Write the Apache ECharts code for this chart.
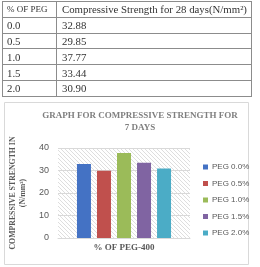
<!DOCTYPE html>
<html>
<head>
<meta charset="utf-8">
<script src="https://cdn.jsdelivr.net/npm/echarts@6/dist/echarts.min.js"></script>
<style>
  html, body { margin: 0; padding: 0; background: #fff; }
  #chart { position: absolute; left: 0; top: 0; width: 260px; height: 267px; }
  #tab {
    position: absolute; left: 2px; top: 1px; width: 250px;
    border-collapse: collapse; font-family: "Liberation Serif", serif;
    font-size: 10.8px; color: #333;
  }
  #tab td { border: 1px solid #8c8c8c; height: 14.8px; padding: 0 0 0 5px; line-height: 14px; white-space: nowrap; }
  #tab td.c1 { width: 49px; padding-left: 4px; }
  #tab td.h1 { font-size: 9px; }
</style>
</head>
<body>
<div id="chart"></div>
<table id="tab"></table>
<script>
// table + chart data
const pegPct = ['0.0', '0.5', '1.0', '1.5', '2.0']
const strength = [32.88, 29.85, 37.77, 33.44, 30.90]
const seriesNames = ['PEG 0.0%', 'PEG 0.5%', 'PEG 1.0%', 'PEG 1.5%', 'PEG 2.0%']
const category = ['% OF PEG-400']
const colors = ['#4472C4', '#C0504D', '#9BBB59', '#8064A2', '#4BACC6']

// html table
let html = '<tr><td class="c1 h1">% OF PEG</td><td>Compressive Strength for 28 days(N/mm²)</td></tr>'
pegPct.forEach((p, i) => {
  html += '<tr><td class="c1">' + p + '</td><td>' + strength[i].toFixed(2) + '</td></tr>'
})
document.getElementById('tab').innerHTML = html

// diagonal hatch for plot background
function hatch() {
  let c = document.createElement('canvas')
  c.width = 4
  c.height = 4
  let ctx = c.getContext('2d')
  ctx.fillStyle = '#fff'
  ctx.fillRect(0, 0, 4, 4)
  ctx.strokeStyle = '#d6d6d6'
  ctx.lineWidth = 0.8
  ctx.beginPath()
  ctx.moveTo(-1, -1); ctx.lineTo(5, 5)
  ctx.moveTo(3, -1); ctx.lineTo(5, 1)
  ctx.moveTo(-1, 3); ctx.lineTo(1, 5)
  ctx.stroke()
  return c
}

let chart = echarts.init(document.getElementById('chart'))
chart.setOption({
  animation: false,
  color: colors,
  title: {
    text: 'GRAPH FOR COMPRESSIVE STRENGTH FOR\n7 DAYS',
    left: 140,
    top: 110,
    padding: 0,
    textAlign: 'center',
    textStyle: {
      fontFamily: 'Liberation Serif',
      fontWeight: 'bold',
      fontSize: 9,
      lineHeight: 12,
      color: '#7f7f7f'
    }
  },
  graphic: [{
    type: 'rect',
    shape: { x: 4.5, y: 102.5, width: 244, height: 162 },
    style: { fill: null, stroke: '#d9d9d9', lineWidth: 1 },
    z: -1
  }],
  legend: {
    orient: 'vertical',
    left: 203,
    top: 161,
    padding: 0,
    icon: 'rect',
    itemWidth: 5,
    itemHeight: 5,
    itemGap: 4.5,
    data: seriesNames,
    textStyle: {
      fontFamily: 'Liberation Sans',
      fontSize: 8,
      lineHeight: 12,
      color: '#595959',
      padding: [0, 0, 0, -1]
    }
  },
  grid: {
    left: 58,
    right: 70,
    top: 148,
    bottom: 29,
    show: true,
    borderWidth: 0,
    backgroundColor: { image: hatch(), repeat: 'repeat' }
  },
  xAxis: {
    type: 'category',
    data: category,
    axisLine: { lineStyle: { color: '#d9d9d9' } },
    axisTick: { show: false },
    axisLabel: {
      margin: 5,
      fontFamily: 'Liberation Serif',
      fontWeight: 'bold',
      fontSize: 9,
      color: '#595959'
    }
  },
  yAxis: {
    type: 'value',
    min: 0,
    max: 40,
    interval: 10,
    name: 'COMPRESSIVE STRENGTH IN\n(N/mm²)',
    nameLocation: 'middle',
    nameGap: 28,
    nameTextStyle: {
      fontFamily: 'Liberation Serif',
      fontWeight: 'bold',
      fontSize: 7.8,
      lineHeight: 10,
      color: '#595959'
    },
    axisLine: { show: false },
    axisTick: { show: false },
    splitLine: { lineStyle: { color: '#d9d9d9' } },
    axisLabel: {
      margin: 9,
      fontFamily: 'Liberation Sans',
      fontSize: 9,
      color: '#595959'
    }
  },
  series: seriesNames.map((name, i) => ({
    name: name,
    type: 'bar',
    barWidth: 14,
    barGap: '43%',
    data: [strength[i]]
  }))
})
</script>
</body>
</html>
